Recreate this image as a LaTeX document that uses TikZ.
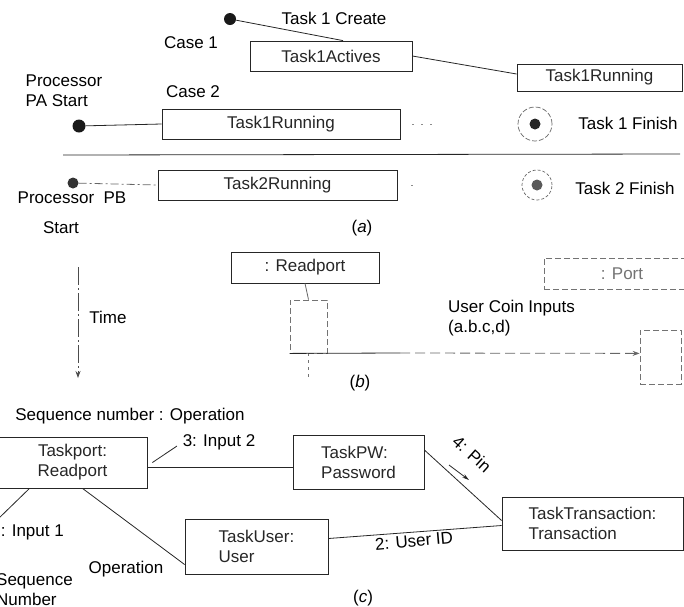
\documentclass[tikz,border=0pt]{standalone}
\usepackage{fontspec}
\setmainfont{Liberation Sans}
\usetikzlibrary{arrows.meta}
\begin{document}
\begin{tikzpicture}[x=1pt,y=-1pt,
  font=\fontsize{17}{20}\selectfont,
  ln/.style={line width=0.8pt, black!85},
  faint/.style={line width=0.8pt, black!55, dash pattern=on 6pt off 3pt},
  box/.style={draw, ln, inner sep=0pt, align=center},
  fbox/.style={draw, faint, inner sep=0pt, align=center},
  lbl/.style={inner sep=0pt, align=left},
  startdot/.style={circle, fill=black!90, inner sep=0pt, minimum size=12pt},
  enddot/.style={circle, fill=black!85, inner sep=0pt, minimum size=11pt},
  endring/.style={circle, draw, line width=0.7pt, black!60, dash pattern=on 5pt off 2pt, inner sep=0pt}]
\useasboundingbox (0,0) rectangle (684,606);

% ---------------- (a) ----------------
\node[startdot] (s1) at (230,19) {};
\node[lbl] (tc) at (334,18) {Task 1 Create};
\node[lbl] (case1) at (191,43) {Case 1};
\node[box, minimum width=162pt, minimum height=30pt] (act) at (331,56) {Task1Actives};
\node[box, minimum width=165pt, minimum height=27pt] (run1) at (599.5,77.5) {Task1Running};
\draw[ln] (s1) -- ([xshift=12pt]act.north);
\draw[ln] (act.east) -- ([yshift=3.5pt]run1.west);

\node[lbl] (pa) at (64,91) {Processor\\PA Start};
\node[lbl] (case2) at (193,92) {Case 2};
\node[startdot, minimum size=13pt] (pas) at (79,126) {};
\node[box, minimum width=238pt, minimum height=30pt] (run2) at (281,124) {Task1Running};
\draw[ln] (pas) -- (run2.west);
\draw[line width=0.8pt, black!45, dash pattern=on 2pt off 7pt] ([xshift=12pt]run2.east) -- ([xshift=34pt]run2.east);

\node[endring, minimum size=34pt] (f1r) at (535,124) {};
\node[enddot] (f1) at (535,124) {};
\node[lbl] (f1l) at (628,123) {Task 1 Finish};

\draw[ln] (63,155) -- (680,154);

\node[startdot, fill=black!80, minimum size=11pt] (pbs) at (73,183) {};
\node[box, minimum width=239pt, minimum height=30pt] (run3) at (277.5,185) {Task2Running};
\draw[line width=0.8pt, black!60, dash pattern=on 8pt off 3pt on 2pt off 3pt] (pbs) -- (run3.west);
\draw[line width=0.8pt, black!45, dash pattern=on 2pt off 7pt] ([xshift=14pt]run3.east) -- ([xshift=18pt]run3.east);

\node[endring, minimum size=30pt, dash pattern=on 3pt off 2pt] (f2r) at (537,185) {};
\node[enddot, fill=black!65] (f2) at (537,185) {};
\node[lbl] (f2l) at (625,188) {Task 2 Finish};

\node[lbl] (pb) at (72,198) {Processor\ \ PB};
\node[lbl] (pb2) at (61,228) {Start};
\node[lbl] (capa) at (362,228) {(\textit{a})};

% ---------------- (b) ----------------
\coordinate (t0) at (78,267);
\coordinate (t1) at (78,378);
\draw[line width=0.8pt, black!70, dash pattern=on 18pt off 3pt on 2pt off 3pt, -{Stealth[length=7pt,width=5pt]}] (t0) -- (t1);
\node[lbl] (time) at (108,317) {Time};

\node[box, minimum width=148pt, minimum height=31pt] (rp) at (305,267.5) {: Readport};
\node[fbox, minimum width=37pt, minimum height=53pt] (ract) at (308.5,326.5) {};
\draw[line width=0.8pt, black!60] (rp.south) -- (ract.north);
\coordinate (lle) at (308.5,377);
\draw[line width=0.8pt, black!55, dash pattern=on 3pt off 4pt] (ract.south) -- (lle);

\node[fbox, minimum width=146pt, minimum height=31pt] (port) at (617,273.5) {\hspace*{10pt}: Port};
\node[fbox, minimum width=41pt, minimum height=54pt] (pact) at (660.5,357) {};

\node[lbl, anchor=west] (uci) at (448,318) {User Coin Inputs\\(a.b.c,d)};
\coordinate (mm) at (400,353);
\draw[ln] (ract.south west) -- (mm);
\draw[line width=0.8pt, black!60, dash pattern=on 10pt off 5pt, -{Stealth[length=7pt,width=5pt]}] (mm) -- (ract.south west -| pact.west);
\node[lbl] (capb) at (360,383) {(\textit{b})};

% ---------------- (c) ----------------
\node[lbl] (seqop) at (130,416) {Sequence number : Operation};
\node[box, minimum width=149pt, minimum height=51pt] (tp) at (72.5,462.5) {Taskport:\\Readport};
\node[box, minimum width=131pt, minimum height=54pt, align=left] (pw) at (358.5,462) {TaskPW:\\Password};
\node[box, minimum width=181pt, minimum height=53pt, align=left] (tr) at (592.5,523.5) {TaskTransaction:\\Transaction};
\node[box, minimum width=143pt, minimum height=55pt, align=left] (us) at (256.5,546.5) {TaskUser:\\User};

\draw[ln] ([yshift=-4.5pt]tp.east) -- ([yshift=-4.5pt]tp.east -| pw.west);
\node[lbl] (in2) at (219,442) {3: Input 2};
\coordinate (l3) at (177,446);
\draw[ln] ([xshift=5pt,yshift=0pt]tp.east) -- (l3);

\draw[ln] ([yshift=12pt]pw.east) -- ([yshift=3pt]tr.west);
\node[lbl, rotate=-42] (pin) at (472,454) {4: Pin};
\coordinate (a0) at (449,465);
\coordinate (a1) at (469,480);
\draw[ln, -{Stealth[length=7pt,width=4pt]}] (a0) -- (a1);

\draw[ln] ([yshift=8pt]us.east) -- ([yshift=-2pt]tr.west);
\node[lbl, rotate=5] (uid) at (414,541) {2: User ID};

\draw[ln] ([xshift=10pt]tp.south) -- ([yshift=-18pt]us.west);
\node[lbl] (opn) at (126,569) {Operation};

\coordinate (l1) at (-3,520);
\draw[ln] ([xshift=-43pt]tp.south) -- (l1);
\node[lbl, anchor=east] (in1) at (64,532) {1: Input 1};
\node[lbl, anchor=west] (seqn) at (-4,590) {Sequence\\Number};

\node[lbl] (capc) at (363,598) {(\textit{c})};
\end{tikzpicture}
\end{document}
